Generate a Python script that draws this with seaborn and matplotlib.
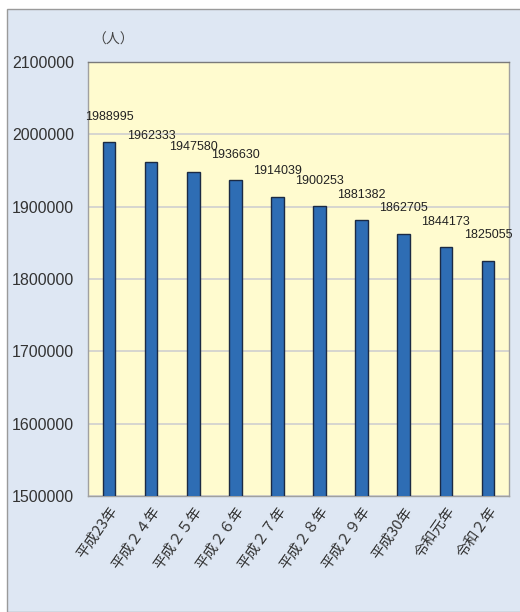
import matplotlib
matplotlib.use("Agg")
import matplotlib.pyplot as plt
import seaborn as sns
import pandas as pd
from matplotlib.patches import Rectangle

categories = ["平成23年", "平成２４年", "平成２５年", "平成２６年", "平成２７年",
              "平成２８年", "平成２９年", "平成30年", "令和元年", "令和２年"]
values = [1988995, 1962333, 1947580, 1936630, 1914039,
          1900253, 1881382, 1862705, 1844173, 1825055]
yticks = [1500000, 1600000, 1700000, 1800000, 1900000, 2000000, 2100000]
unit_label = "（人）"

sns.set_theme(style="white")
plt.rcParams['font.family'] = ['Liberation Sans', 'DejaVu Sans']

df = pd.DataFrame({"cat": categories, "val": values})

fig = plt.figure(figsize=(5.2, 6.12), dpi=100)
fig.patch.set_facecolor("white")
panel = Rectangle((7/520, 0), 1.0, 1 - 9/612, transform=fig.transFigure,
                  facecolor="#dee7f3", edgecolor="#9a9a9a", linewidth=1.0, zorder=-10)
fig.patches.append(panel)

ax = fig.add_axes([88/520, 1 - 496/612, (509 - 88)/520, (496 - 62)/612])
ax.set_zorder(5)
ax.set_facecolor("#fffbcf")
sns.barplot(data=df, x="cat", y="val", color="#2e6db4", width=0.3,
            edgecolor="#1b2a44", linewidth=1.0, saturation=1, ax=ax, zorder=3)
ax.set_ylim(1500000, 2100000)
ax.set_yticks(yticks)
ax.set_yticklabels([str(v) for v in yticks], fontsize=11.5, color="#333333")
ax.grid(axis="y", color="#cfcfcf", linewidth=1.2, zorder=0)
ax.set_axisbelow(True)
ax.set_xlabel("")
ax.set_ylabel("")
ax.tick_params(axis="y", length=0, pad=10)
ax.tick_params(axis="x", length=0, pad=6)
for lab in ax.get_xticklabels():
    lab.set_fontfamily(['Noto Sans CJK JP'])
    lab.set_fontsize(10.5)
    lab.set_rotation(55)
    lab.set_ha("right")
    lab.set_rotation_mode("anchor")
    lab.set_color("#333333")
for s in ["left", "right", "top", "bottom"]:
    ax.spines[s].set_color("#a0a0a0")
    ax.spines[s].set_linewidth(1.0)
ax.spines["top"].set_color("#7a7a7a")

for i, v in enumerate(values):
    ax.annotate(str(v), (i, v), xytext=(0, 14), textcoords="offset points",
                ha="center", va="bottom", fontsize=9, color="#222222")

fig.text(92/520, 1 - 40/612, unit_label, fontsize=10, color="#444444",
         family=['Noto Sans CJK JP'], va="center", ha="left", zorder=6)

fig.savefig("out.png", dpi=100)
